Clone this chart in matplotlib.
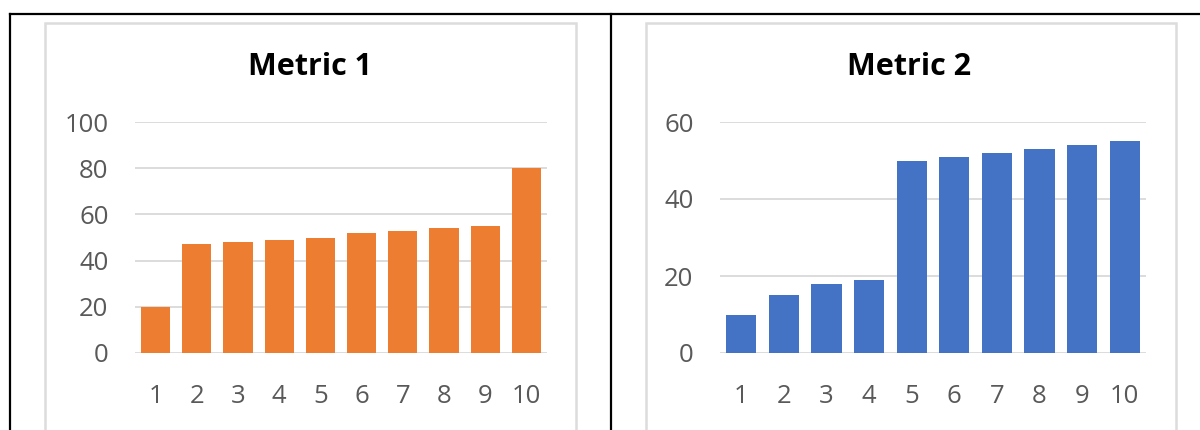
import numpy as np
import matplotlib.pyplot as plt
from matplotlib.lines import Line2D
from matplotlib.patches import Rectangle

categories = ['1', '2', '3', '4', '5', '6', '7', '8', '9', '10']
metric1 = [20, 47, 48, 49, 50, 52, 53, 54, 55, 80]
metric2 = [10, 15, 18, 19, 50, 51, 52, 53, 54, 55]

W, H = 1200, 430
fig = plt.figure(figsize=(W / 100, H / 100), dpi=100)
fig.patch.set_facecolor('white')

def px(x0, y0, x1, y1):
    # pixel box (top-left origin) -> figure rect
    return [x0 / W, 1 - y1 / H, (x1 - x0) / W, (y1 - y0) / H]

# table borders
lw = 1.6
fig.add_artist(Line2D([10 / W, 1], [1 - 14 / H] * 2, color='black', lw=lw))
fig.add_artist(Line2D([10 / W] * 2, [0, 1 - 14 / H], color='black', lw=lw))
fig.add_artist(Line2D([611 / W] * 2, [0, 1 - 14 / H], color='black', lw=lw))

# chart frames
for x0, x1 in [(45, 576), (646, 1176)]:
    fig.add_artist(Rectangle((x0 / W, -0.05), (x1 - x0) / W, 1 - 23 / H + 0.05,
                             transform=fig.transFigure, fill=False,
                             edgecolor='#DCDCDC', lw=1.8))

font = 'Open Sans'
specs = [
    (metric1, '#ED7D31', 'Metric 1', (135, 122, 547, 353), 100, 20, 310),
    (metric2, '#4472C4', 'Metric 2', (720, 122, 1146, 353), 60, 20, 909),
]
x = np.arange(len(categories))
for vals, col, title, box, ymax, step, tx in specs:
    ax = fig.add_axes(px(*box))
    ax.bar(x, vals, width=0.71, color=col, zorder=3)
    ax.set_xlim(-0.5, len(categories) - 0.5)
    ax.set_ylim(0, ymax)
    ax.set_yticks(np.arange(0, ymax + 1, step))
    ax.set_xticks(x)
    ax.set_xticklabels(categories)
    ax.grid(axis='y', color='#D9D9D9', lw=1.3, zorder=0)
    for s in ax.spines.values():
        s.set_visible(False)
    ax.tick_params(length=0, labelsize=18.5, labelcolor='#595959')
    ax.tick_params(axis='x', pad=22)
    ax.tick_params(axis='y', pad=19)
    for lab in ax.get_xticklabels() + ax.get_yticklabels():
        lab.set_fontfamily(font)
    ax.set_facecolor('none')
    fig.text(tx / W, 1 - 67 / H, title, ha='center', va='center',
             fontsize=22, fontweight='bold', family=font, color='black')

fig.savefig('out.png', dpi=100)
